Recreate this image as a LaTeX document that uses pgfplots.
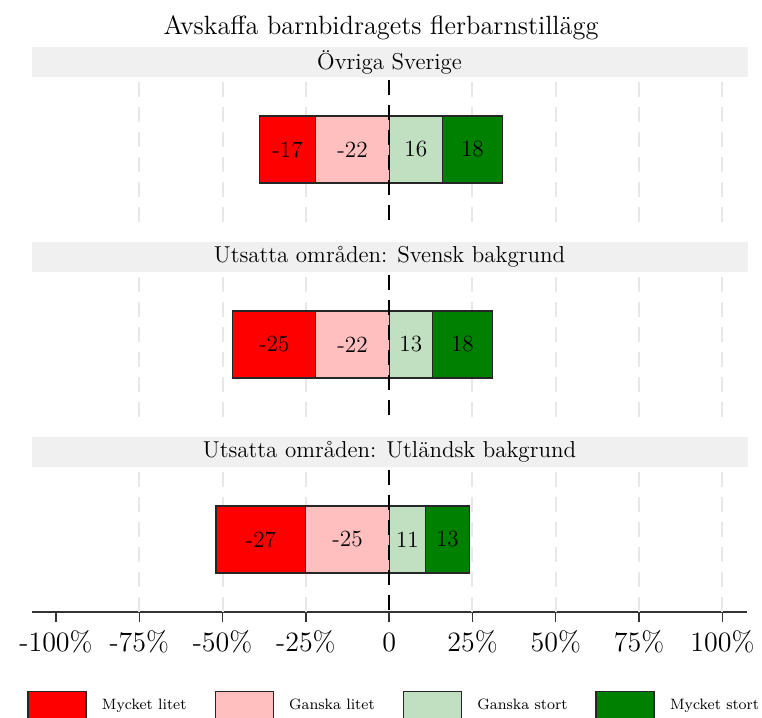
\documentclass[border=0pt]{standalone}
\usepackage{pgfplots}
\pgfplotsset{compat=1.18}
\usepackage{pgfplotstable}

\definecolor{cML}{HTML}{FF0000}
\definecolor{cGL}{HTML}{FFBFBF}
\definecolor{cGS}{HTML}{C1E0C1}
\definecolor{cMS}{HTML}{008000}
\definecolor{cStrip}{HTML}{F0F0F0}
\definecolor{cGrid}{HTML}{E8E8E8}

% ml = Mycket litet, gl = Ganska litet, gs = Ganska stort, ms = Mycket stort
\pgfplotstableread{
ml gl gs ms
-17 -22 16 18
}\dataA
\pgfplotstableread{
ml gl gs ms
-25 -22 13 18
}\dataB
\pgfplotstableread{
ml gl gs ms
-27 -25 11 13
}\dataC

\tikzset{zline/.style={black, line width=1pt, dash pattern=on 7.5pt off 5pt}}

\pgfplotsset{
  panel/.style={
    width=357.5pt, height=72.5pt, scale only axis,
    xmin=-107.2, xmax=107.4, ymin=0, ymax=1,
    ytick=\empty,
    axis line style={draw=none},
    extra x ticks={-75,-50,-25,25,50,75,100},
    extra x tick labels={},
    extra x tick style={grid=major, major tick length=0pt},
    grid style={color=cGrid, line width=1pt, dash pattern=on 7.5pt off 5pt},
    anchor=north west,
  },
  barp/.style={xbar, bar width=33.5pt, bar shift=0pt, draw=black!85, line width=0.6pt, fill=#1, forget plot},
  lab/.style={only marks, mark=*, mark size=0pt, mark options={draw=none, fill=none},
    nodes near coords={\pgfplotspointmeta}, point meta=explicit symbolic, forget plot,
    every node near coord/.style={anchor=center, font=\fontsize{11.6}{13}\selectfont, text=black}},
}

\newcommand{\panelplots}[1]{%
  \addplot[barp=cML] table[x expr=\thisrow{ml}+\thisrow{gl}, y expr=0.5] #1;
  \addplot[barp=cGL] table[x=gl, y expr=0.5] #1;
  \addplot[barp=cMS] table[x expr=\thisrow{gs}+\thisrow{ms}, y expr=0.5] #1;
  \addplot[barp=cGS] table[x=gs, y expr=0.5] #1;
  \addplot[lab] table[x expr=\thisrow{gl}+\thisrow{ml}/2, y expr=0.5, meta=ml] #1;
  \addplot[lab] table[x expr=\thisrow{gl}/2, y expr=0.5, meta=gl] #1;
  \addplot[lab] table[x expr=\thisrow{gs}/2, y expr=0.5, meta=gs] #1;
  \addplot[lab] table[x expr=\thisrow{gs}+\thisrow{ms}/2, y expr=0.5, meta=ms] #1;
  \draw[zline] (axis cs:0,0.98) -- (axis cs:0,0);
}

\newcommand{\strip}[2]{%
  \fill[cStrip] ([yshift=-0.2pt]#1.north west) rectangle ([yshift=15pt,xshift=0.5pt]#1.north east);
  \node[font=\fontsize{11.5}{13}\selectfont, anchor=center] at ([yshift=7.5pt]#1.north) {#2};
}

\begin{document}
\begin{tikzpicture}
\node[font=\fontsize{13.2}{15}\selectfont, anchor=base] at (174.5pt,-17pt) {Avskaffa barnbidragets flerbarnstillägg};

\begin{axis}[panel, name=a1, at={(0pt,-38.5pt)}, xtick=\empty]
\panelplots{\dataA}
\end{axis}
\strip{a1}{Övriga Sverige}

\begin{axis}[panel, name=a2, at={(0pt,-136pt)}, xtick=\empty]
\panelplots{\dataB}
\end{axis}
\strip{a2}{Utsatta områden: Svensk bakgrund}

\begin{axis}[panel, name=a3, at={(0pt,-233.5pt)},
  axis x line*=bottom, axis y line=none,
  x axis line style={draw=black!80, line width=0.7pt, -},
  xtick={-100,-75,-50,-25,0,25,50,75,100},
  xticklabels={-100\%,-75\%,-50\%,-25\%,0,25\%,50\%,75\%,100\%},
  major tick length=5pt, tick align=outside,
  tick style={black!80, line width=0.7pt},
  xticklabel style={font=\fontsize{14}{16}\selectfont, text height=10pt, text depth=1pt, yshift=-1pt},
  legend columns=4,
  legend style={at={(-0.007,-0.646)}, anchor=west, draw=none, fill=none, inner sep=0pt,
    font=\fontsize{7.5}{9}\selectfont,
    /tikz/every odd column/.append style={column sep=5.5pt},
    /tikz/every even column/.append style={column sep=12pt}},
  legend image code/.code={\draw[#1, draw=black!85, line width=0.8pt] (0pt,-7pt) rectangle (29pt,7pt);},
]
\panelplots{\dataC}
\addlegendimage{fill=cML}\addlegendentry{Mycket litet}
\addlegendimage{fill=cGL}\addlegendentry{Ganska litet}
\addlegendimage{fill=cGS}\addlegendentry{Ganska stort}
\addlegendimage{fill=cMS}\addlegendentry{Mycket stort}
\end{axis}
\strip{a3}{Utsatta områden: Utländsk bakgrund}

\pgfresetboundingbox
\useasboundingbox (-16pt,0pt) rectangle (365pt,-359pt);
\end{tikzpicture}
\end{document}
